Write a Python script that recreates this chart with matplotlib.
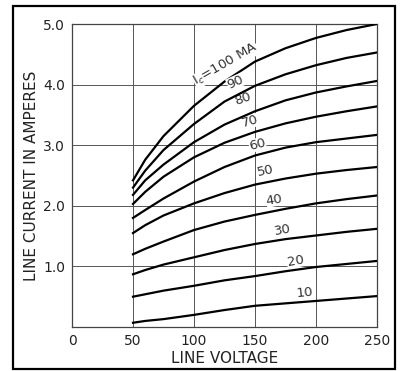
import matplotlib.pyplot as plt
from matplotlib.patches import Rectangle

volts = [50, 60, 75, 100, 125, 150, 175, 200, 225, 250]

# line current (A) for each plate current curve
amps_10 = [0.07, 0.10, 0.13, 0.20, 0.28, 0.35, 0.39, 0.43, 0.47, 0.51]
amps_20 = [0.50, 0.54, 0.60, 0.68, 0.77, 0.84, 0.92, 0.99, 1.04, 1.09]
amps_30 = [0.87, 0.94, 1.03, 1.15, 1.27, 1.37, 1.45, 1.51, 1.57, 1.62]
amps_40 = [1.20, 1.29, 1.41, 1.60, 1.74, 1.85, 1.95, 2.04, 2.11, 2.17]
amps_50 = [1.55, 1.68, 1.84, 2.04, 2.21, 2.35, 2.45, 2.53, 2.59, 2.64]
amps_60 = [1.80, 1.93, 2.12, 2.40, 2.64, 2.83, 2.96, 3.05, 3.11, 3.17]
amps_70 = [2.03, 2.23, 2.48, 2.80, 3.04, 3.22, 3.36, 3.47, 3.56, 3.64]
amps_80 = [2.18, 2.42, 2.68, 3.05, 3.34, 3.56, 3.74, 3.87, 3.97, 4.06]
amps_90 = [2.30, 2.58, 2.92, 3.35, 3.72, 3.98, 4.17, 4.32, 4.44, 4.53]
amps_100 = [2.42, 2.76, 3.15, 3.65, 4.05, 4.38, 4.60, 4.77, 4.90, 5.00]

curves = [amps_10, amps_20, amps_30, amps_40, amps_50,
          amps_60, amps_70, amps_80, amps_90, amps_100]
curve_labels = ['10', '20', '30', '40', '50', '60', '70', '80', '90',
                r'I$_c$=100 MA']
# label placement (volts, amps, angle)
label_pos = [(191, 0.57, 5), (183, 1.09, 10), (173, 1.60, 10), (166, 2.10, 10),
             (159, 2.58, 12), (152, 3.01, 14), (146, 3.39, 16), (140, 3.76, 20),
             (134, 4.04, 25), (126, 4.33, 30)]
# the two top labels sit on their curves and hide them
label_z = [2, 2, 2, 2, 2, 2, 2, 2, 4, 4]

xticks = [0, 50, 100, 150, 200, 250]
yticks = [1, 2, 3, 4, 5]
ytick_labels = ['1.0', '2.0', '3.0', '4.0', '5.0']

ink = '#222222'
plt.rcParams['font.family'] = 'DejaVu Sans'

fig = plt.figure(figsize=(4.01, 3.71), dpi=100)
ax = fig.add_axes([0.1796, 0.1186, 0.7604, 0.8167])

for v in [50, 100, 150, 200]:
    ax.axvline(v, color='#555555', lw=0.7, zorder=1)
for a in [1, 2, 3, 4]:
    ax.axhline(a, color='#555555', lw=0.7, zorder=1)

for amps in curves:
    ax.plot(volts, amps, color='black', lw=1.6, zorder=3)

for lab, (x, y, rot), z in zip(curve_labels, label_pos, label_z):
    ax.text(x, y, lab, fontsize=9.5, color='#333333', rotation=rot,
            ha='center', va='center', zorder=z,
            bbox=dict(facecolor='white', edgecolor='none', pad=0.1))

ax.set_xlim(0, 250)
ax.set_ylim(0, 5)
ax.set_xticks(xticks)
ax.set_xticklabels([str(t) for t in xticks])
ax.set_yticks(yticks)
ax.set_yticklabels(ytick_labels)
ax.tick_params(length=0, labelsize=10, colors=ink, pad=5)
for s in ax.spines.values():
    s.set_color('#444444')
    s.set_linewidth(0.9)

ax.set_xlabel('LINE VOLTAGE', fontsize=11, color=ink, labelpad=2)
ax.set_ylabel('LINE CURRENT IN AMPERES', fontsize=11, color=ink, labelpad=3)

# outer frame around the whole figure
fig.patches.append(Rectangle((13 / 401, 2 / 371), 382 / 401, 363 / 371,
                             transform=fig.transFigure, fill=False,
                             edgecolor='black', lw=1.6))

fig.savefig('out.png', dpi=100)
